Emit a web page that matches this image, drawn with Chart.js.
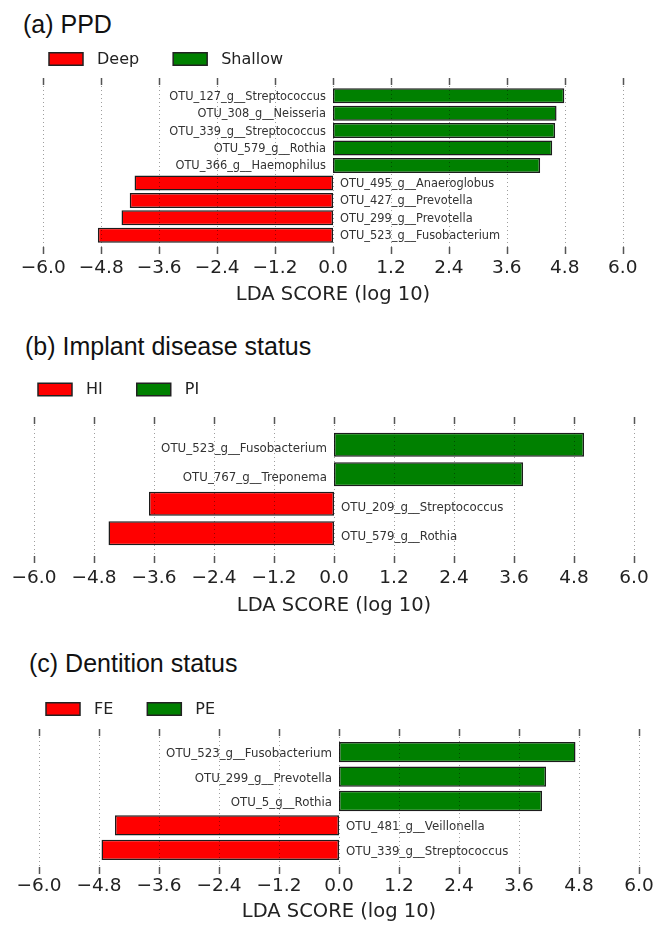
<!DOCTYPE html>
<html><head><meta charset="utf-8">
<script src="https://cdn.jsdelivr.net/npm/chart.js@4.4.0/dist/chart.umd.min.js"></script>
<style>
html,body{margin:0;padding:0;background:#fff;width:659px;height:927px;overflow:hidden;position:relative}
.ttl{position:absolute;font-family:"Liberation Sans",Arial,sans-serif;font-size:25px;line-height:25px;color:#111;white-space:nowrap}
canvas{position:absolute;left:0}
</style></head><body>
<div class="ttl" style="left:23px;top:12px">(a) PPD</div>
<div class="ttl" style="left:25px;top:334px">(b) Implant disease status</div>
<div class="ttl" style="left:29px;top:651px">(c) Dentition status</div>
<canvas id="ca" width="659" height="267" style="top:40px;width:659px;height:267px"></canvas>
<canvas id="cb" width="659" height="248" style="top:370px;width:659px;height:248px"></canvas>
<canvas id="cc" width="659" height="234" style="top:690px;width:659px;height:234px"></canvas>
<script>
// ---- data ----
const tickValues = [-6.0, -4.8, -3.6, -2.4, -1.2, 0.0, 1.2, 2.4, 3.6, 4.8, 6.0];
const axisTitle = 'LDA SCORE (log 10)';
const groupColors = ['#ff0000', '#008000'];

const ppdGroups = ['Deep', 'Shallow'];
const ppdCategories = ['OTU_127_g__Streptococcus','OTU_308_g__Neisseria','OTU_339_g__Streptococcus','OTU_579_g__Rothia','OTU_366_g__Haemophilus','OTU_495_g__Anaeroglobus','OTU_427_g__Prevotella','OTU_299_g__Prevotella','OTU_523_g__Fusobacterium'];
const ppdScores = [4.79, 4.63, 4.60, 4.54, 4.29, -4.11, -4.21, -4.38, -4.87];

const implantGroups = ['HI', 'PI'];
const implantCategories = ['OTU_523_g__Fusobacterium','OTU_767_g__Treponema','OTU_209_g__Streptococcus','OTU_579_g__Rothia'];
const implantScores = [5.00, 3.78, -3.70, -4.51];

const dentitionGroups = ['FE', 'PE'];
const dentitionCategories = ['OTU_523_g__Fusobacterium','OTU_299_g__Prevotella','OTU_5_g__Rothia','OTU_481_g__Veillonella','OTU_339_g__Streptococcus'];
const dentitionScores = [4.73, 4.14, 4.06, -4.48, -4.75];

Chart.defaults.font.family = '"DejaVu Sans", sans-serif';

const decor = {
  id: 'decor',
  afterDatasetsDraw(chart, args, o) {
    const ctx = chart.ctx, xs = chart.scales.x, ys = chart.scales.y, ca = chart.chartArea;
    const top = ca.top - o.offTop, bot = ca.bottom + o.offBot;
    ctx.save();
    xs.ticks.forEach(t => {
      const px = Math.round(xs.getPixelForValue(t.value)) + 0.5;
      ctx.strokeStyle = 'rgba(0,0,0,0.38)'; ctx.lineWidth = 1; ctx.setLineDash([1, 3]);
      ctx.beginPath(); ctx.moveTo(px, top); ctx.lineTo(px, bot); ctx.stroke();
      ctx.setLineDash([]); ctx.strokeStyle = '#555'; ctx.lineWidth = 1.5;
      ctx.beginPath(); ctx.moveTo(px, top); ctx.lineTo(px, top + 7); ctx.moveTo(px, bot - 7); ctx.lineTo(px, bot); ctx.stroke();
    });
    const ds = chart.data.datasets;
    const x0 = xs.getPixelForValue(0);
    ctx.font = o.labelFont; ctx.fillStyle = '#333'; ctx.textBaseline = 'middle';
    chart.data.labels.forEach((c, i) => {
      const v = ds[0].data[i] !== null ? ds[0].data[i] : ds[1].data[i];
      const y = ys.getPixelForValue(i) + o.labelDy;
      if (v >= 0) { ctx.textAlign = 'right'; ctx.fillText(c, x0 - 7, y); }
      else { ctx.textAlign = 'left'; ctx.fillText(c, x0 + 7, y); }
    });
    // legend
    let x = o.legendX; const cy = o.legendY, h = 12.5;
    ctx.font = '16px "DejaVu Sans", sans-serif'; ctx.textAlign = 'left';
    ds.forEach(d => {
      ctx.fillStyle = d.backgroundColor; ctx.fillRect(x, cy - h / 2, 34, h);
      ctx.strokeStyle = '#222'; ctx.lineWidth = 1.5; ctx.strokeRect(x, cy - h / 2, 34, h);
      ctx.fillStyle = '#222'; ctx.fillText(d.label, x + 48, cy + 0.5);
      x = x + 48 + ctx.measureText(d.label).width + 34;
    });
    ctx.restore();
  }
};

function makeChart(id, cats, scores, groups, g) {
  const datasets = groups.map((name, k) => ({
    label: name,
    data: scores.map(v => (k === 0 ? (v < 0 ? v : null) : (v >= 0 ? v : null))),
    backgroundColor: groupColors[k],
    borderColor: '#1c1c1c',
    borderWidth: 1.5,
    borderSkipped: false,
    barPercentage: g.barPct,
    categoryPercentage: 1
  }));
  return new Chart(document.getElementById(id), {
    type: 'bar',
    data: { labels: cats, datasets },
    options: {
      indexAxis: 'y', responsive: false, animation: false, devicePixelRatio: 1,
      layout: { padding: { top: g.padTop, left: g.left, right: 659 - g.right, bottom: 0 } },
      plugins: { legend: { display: false }, tooltip: { enabled: false },
        decor: { offTop: g.offTop, offBot: g.offBot, labelFont: g.labelFont, labelDy: g.labelDy, legendX: g.legendX, legendY: g.legendY } },
      scales: {
        y: { display: false, stacked: true },
        x: {
          type: 'linear', stacked: true, min: tickValues[0], max: tickValues[tickValues.length - 1],
          grid: { display: false, drawTicks: false, tickLength: 0 },
          border: { display: false },
          afterBuildTicks: s => { s.ticks = tickValues.map(v => ({ value: v })); },
          afterFit: s => { s.height = g.axisH; s.paddingLeft = 0; s.paddingRight = 0; },
          ticks: { autoSkip: false, maxRotation: 0, padding: g.tickPad, color: '#222', font: { size: 18.5 },
            callback: v => (v < -1e-9 ? '\u2212' : '') + Math.abs(v).toFixed(1) },
          title: { display: true, text: axisTitle, color: '#222', font: { size: 19.5 }, padding: 0 }
        }
      }
    },
    plugins: [decor]
  });
}

makeChart('ca', ppdCategories, ppdScores, ppdGroups,
  { padTop: 47, left: 43.3, right: 622.7, axisH: 63, tickPad: 13, barPct: 0.86, offTop: 9, offBot: 10,
    labelFont: '11.4px "DejaVu Sans", sans-serif', labelDy: 1, legendX: 49, legendY: 19 });
makeChart('cb', implantCategories, implantScores, implantGroups,
  { padTop: 60, left: 34, right: 634, axisH: 70, tickPad: 19, barPct: 0.82, offTop: 13, offBot: 15,
    labelFont: '11.8px "DejaVu Sans", sans-serif', labelDy: 4, legendX: 38, legendY: 19.5 });
makeChart('cc', dentitionCategories, dentitionScores, dentitionGroups,
  { padTop: 50, left: 39, right: 639, axisH: 62, tickPad: 13, barPct: 0.83, offTop: 11, offBot: 12,
    labelFont: '11.8px "DejaVu Sans", sans-serif', labelDy: 2, legendX: 46, legendY: 19 });
</script>
</body></html>
